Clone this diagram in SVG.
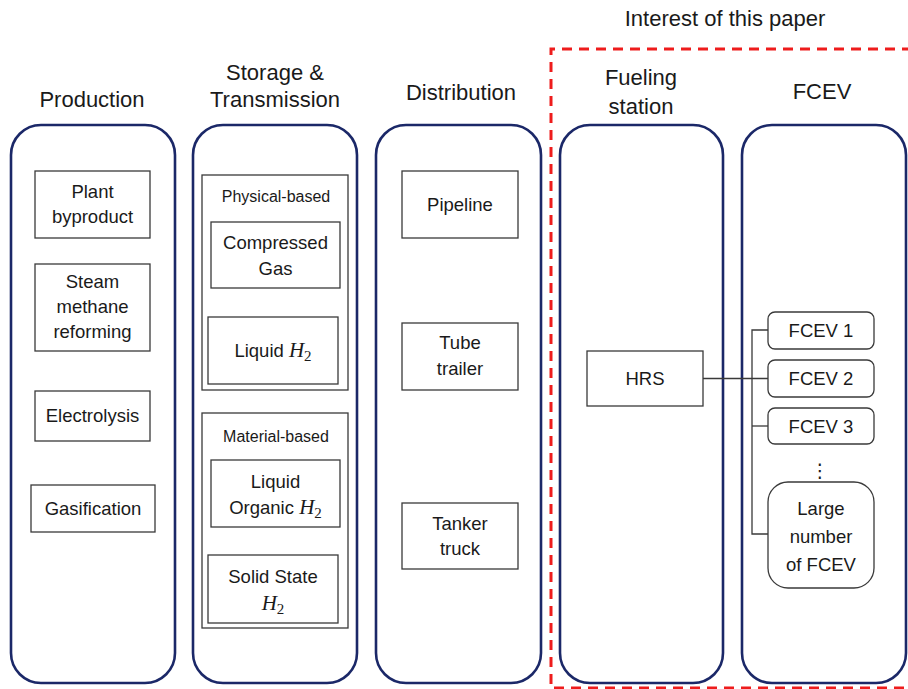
<svg xmlns="http://www.w3.org/2000/svg" width="908" height="689" viewBox="0 0 908 689">
  <defs>
    <style>
      .col { fill: #fff; stroke: #1b2868; stroke-width: 2.6; }
      .box { fill: #fff; stroke: #3a3a3a; stroke-width: 1.3; }
      .grp { fill: none; stroke: #3a3a3a; stroke-width: 1.3; }
      .head { font-family: "Liberation Sans", Arial, sans-serif; font-size: 22px; fill: #1a1a1a; text-anchor: middle; }
      .lbl { font-family: "Liberation Sans", Arial, sans-serif; font-size: 18.5px; fill: #1a1a1a; text-anchor: middle; }
      .sub { font-family: "Liberation Sans", Arial, sans-serif; font-size: 16px; fill: #1a1a1a; text-anchor: middle; }
      .math { font-family: "Liberation Serif", "Times New Roman", serif; font-style: italic; font-size: 21px; }
      .idx { font-family: "Liberation Serif", "Times New Roman", serif; font-style: normal; font-size: 15px; }
      .link { fill: none; stroke: #3a3a3a; stroke-width: 1.3; }
    </style>
  </defs>

  <rect width="908" height="689" fill="#fff"/>

  <!-- scope of interest -->
  <g id="interest">
    <path d="M 912 49 H 551 V 688 H 912" fill="none" stroke="#ee1c1c" stroke-width="3" stroke-dasharray="10 7"/>
    <text class="head" x="725" y="26">Interest of this paper</text>
  </g>

  <!-- Production -->
  <g id="production">
    <text class="head" x="92" y="107">Production</text>
    <rect class="col" x="11" y="125" width="164" height="558" rx="30"/>
    <g id="plant-byproduct">
      <rect class="box" x="35" y="171" width="115" height="67"/>
      <text class="lbl" x="92.5" y="198">Plant</text>
      <text class="lbl" x="92.5" y="223">byproduct</text>
    </g>
    <g id="smr">
      <rect class="box" x="35" y="264" width="115" height="87"/>
      <text class="lbl" x="92.5" y="288">Steam</text>
      <text class="lbl" x="92.5" y="313">methane</text>
      <text class="lbl" x="92.5" y="338">reforming</text>
    </g>
    <g id="electrolysis">
      <rect class="box" x="35" y="391" width="115" height="50"/>
      <text class="lbl" x="92.5" y="422">Electrolysis</text>
    </g>
    <g id="gasification">
      <rect class="box" x="31" y="485" width="124" height="47"/>
      <text class="lbl" x="93" y="515">Gasification</text>
    </g>
  </g>

  <!-- Storage & Transmission -->
  <g id="storage">
    <text class="head" x="275" y="80">Storage &amp;</text>
    <text class="head" x="275" y="107">Transmission</text>
    <rect class="col" x="193" y="125" width="164" height="558" rx="30"/>
    <g id="physical-based">
      <rect class="grp" x="202" y="175" width="146" height="215"/>
      <text class="sub" x="276" y="202">Physical-based</text>
      <g id="compressed-gas">
        <rect class="box" x="211" y="222" width="129" height="66"/>
        <text class="lbl" x="275.5" y="249">Compressed</text>
        <text class="lbl" x="275.5" y="275">Gas</text>
      </g>
      <g id="liquid-h2">
        <rect class="box" x="208" y="317" width="130" height="67"/>
        <text class="lbl" x="273" y="357">Liquid <tspan class="math">H</tspan><tspan class="idx" dy="4">2</tspan></text>
      </g>
    </g>
    <g id="material-based">
      <rect class="grp" x="202" y="413" width="146" height="215"/>
      <text class="sub" x="276" y="442">Material-based</text>
      <g id="liquid-organic-h2">
        <rect class="box" x="211" y="460" width="129" height="67"/>
        <text class="lbl" x="275.5" y="488">Liquid</text>
        <text class="lbl" x="275.5" y="514">Organic <tspan class="math">H</tspan><tspan class="idx" dy="4">2</tspan></text>
      </g>
      <g id="solid-state-h2">
        <rect class="box" x="208" y="555" width="130" height="68"/>
        <text class="lbl" x="273" y="583">Solid State</text>
        <text class="lbl" x="273" y="610"><tspan class="math">H</tspan><tspan class="idx" dy="4">2</tspan></text>
      </g>
    </g>
  </g>

  <!-- Distribution -->
  <g id="distribution">
    <text class="head" x="461" y="100">Distribution</text>
    <rect class="col" x="376" y="125" width="165" height="558" rx="30"/>
    <g id="pipeline">
      <rect class="box" x="402" y="171" width="116" height="67"/>
      <text class="lbl" x="460" y="211">Pipeline</text>
    </g>
    <g id="tube-trailer">
      <rect class="box" x="402" y="323" width="116" height="67"/>
      <text class="lbl" x="460" y="349">Tube</text>
      <text class="lbl" x="460" y="375">trailer</text>
    </g>
    <g id="tanker-truck">
      <rect class="box" x="402" y="503" width="116" height="66"/>
      <text class="lbl" x="460" y="530">Tanker</text>
      <text class="lbl" x="460" y="555">truck</text>
    </g>
  </g>

  <!-- Fueling station -->
  <g id="fueling-station">
    <text class="head" x="641" y="85">Fueling</text>
    <text class="head" x="641" y="114">station</text>
    <rect class="col" x="560" y="125" width="163" height="558" rx="30"/>
  </g>

  <!-- FCEV -->
  <g id="fcev">
    <text class="head" x="822" y="99">FCEV</text>
    <rect class="col" x="742" y="125" width="164" height="558" rx="30"/>
  </g>

  <!-- connectors -->
  <g id="connectors">
    <path class="link" d="M 703 378.5 H 768"/>
    <path class="link" d="M 768 330 H 752 V 534 H 768"/>
    <path class="link" d="M 752 426 H 768"/>
  </g>

  <g id="hrs">
    <rect class="box" x="587" y="351" width="116" height="55"/>
    <text class="lbl" x="645" y="385">HRS</text>
  </g>
  <g id="fcev-1">
    <rect class="box" x="768" y="312" width="106" height="37" rx="7"/>
    <text class="lbl" x="821" y="337">FCEV 1</text>
  </g>
  <g id="fcev-2">
    <rect class="box" x="768" y="360" width="106" height="37" rx="7"/>
    <text class="lbl" x="821" y="385">FCEV 2</text>
  </g>
  <g id="fcev-3">
    <rect class="box" x="768" y="408" width="106" height="36" rx="7"/>
    <text class="lbl" x="821" y="433">FCEV 3</text>
  </g>
  <text x="820" y="477" font-family="'DejaVu Sans', sans-serif" font-size="19" fill="#1a1a1a" text-anchor="middle">⋮</text>
  <g id="fcev-many">
    <rect class="box" x="768" y="482" width="106" height="106" rx="20"/>
    <text class="lbl" x="821" y="515">Large</text>
    <text class="lbl" x="821" y="543">number</text>
    <text class="lbl" x="821" y="571">of FCEV</text>
  </g>
</svg>
